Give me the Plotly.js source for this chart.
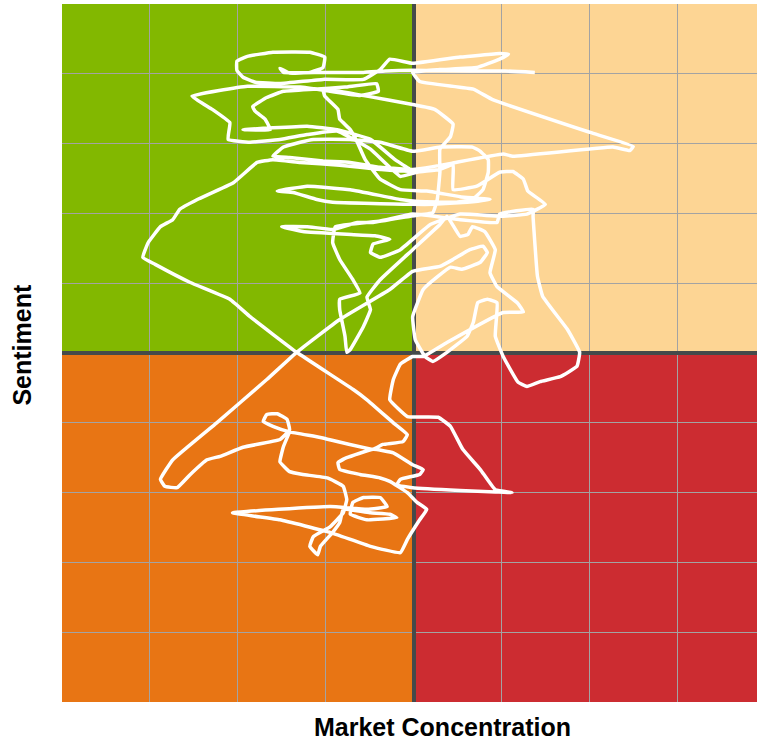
<!DOCTYPE html>
<html>
<head>
<meta charset="utf-8">
<script src="https://cdn.plot.ly/plotly-3.0.1.min.js"></script>
<style>html,body{margin:0;padding:0;background:#fff;}#chart{width:757px;height:743px;}</style>
</head>
<body>
<div id="chart"></div>
<script>
// Path of the market over time (Market Concentration, Sentiment)
const concentration = [
 1.38,1.04,0.64,-0.01,-0.32,-0.57,-1.06,-1.48,-1.52,-1.41,-1.18,-1.03,-1.01,-1.18,-1.60,-1.89,-2.01,-2.01,-1.94,-1.80,
 -1.52,-1.03,-0.57,-0.38,-0.27,-0.01,0.53,0.98,1.08,0.98,0.72,0.30,-0.01,0.07,0.68,0.90,2.01,2.50,2.46,2.27,
 1.13,1.02,0.44,0.22,-0.01,-0.38,-0.72,-1.03,-1.41,-1.60,-1.48,-1.29,-1.14,-0.72,-0.38,-0.01,0.30,0.67,0.76,0.85,
 0.85,0.79,0.67,0.49,0.07,-0.15,-0.72,-1.21,-1.55,-1.37,-1.10,-0.92,-0.01,0.22,0.61,0.87,0.53,0.15,-0.15,-0.38,
 -0.55,-0.64,-0.72,-0.84,-0.86,-1.01,-1.03,-0.98,-0.53,-0.01,0.24,0.45,0.42,0.30,0.30,0.27,0.22,-0.04,-0.46,-0.64,
 -0.92,-1.21,-1.50,-1.26,-0.76,-0.44,-0.27,-0.46,-0.49,-0.38,-0.15,0.19,0.53,0.98,1.29,1.50,1.30,1.25,1.13,0.98,
 0.72,0.45,0.45,0.30,0.04,-0.15,-0.49,-0.87,-1.21,-1.52,-1.86,-2.11,-2.09,-2.29,-2.52,-1.89,-1.29,-0.95,-0.61,-0.40,
 -0.42,-0.78,-1.14,-1.48,-1.67,-1.83,-1.80,-1.69,-1.63,-1.94,-1.21,-0.87,-0.49,-0.21,-0.01,-0.38,-0.84,-1.29,-1.60,-1.78,
 -2.05,-2.46,-2.66,-2.74,-2.88,-3.02,-3.08,-2.94,-2.54,-2.09,-1.86,-1.33,-0.69,-0.53,-0.23,-0.07,-0.12,-0.35,-0.46,-1.06,
 -1.41,-1.60,-1.71,-1.67,-1.55,-1.44,-1.41,-1.52,-1.94,-2.20,-2.35,-2.54,-2.69,-2.83,-2.88,-2.74,-2.24,-1.67,-1.33,-0.84,
 -0.27,-0.01,0.30,0.45,0.64,0.79,0.84,0.76,0.55,0.42,0.28,0.11,-0.01,0.02,0.13,0.22,0.38,0.61,0.68,0.73,
 0.84,0.95,0.93,1.02,1.19,1.29,1.44,1.67,1.86,1.89,1.75,1.47,1.41,1.36,1.36,0.98,0.95,0.53,-0.01,-0.38,
 -0.89,-0.92,-0.84,-0.69,-0.61,-0.84,-0.84,-0.78,-0.76,-0.72,-0.57,-0.49,-0.53,-0.38,-0.01,0.30,0.38,0.53,0.62,0.67,
 0.81,0.93,0.87,0.95,1.18,1.25,1.02,0.38,0.11,-0.01,-0.15,-0.23,-0.27,-0.07,0.28,0.42,0.56,0.76,0.93,1.12,
 0.93,0.53,-0.01,-0.19,-0.15,0.07,0.11,-0.01,-0.23,-0.46,-0.76,-0.86,-0.84,-0.61,-0.38,-0.27,-0.07,0.04,0.15,0.07,
 -0.07,-0.15,-0.49,-0.95,-1.52,-2.06,-0.95,-0.53,-0.30,-0.38,-0.57,-0.69,-0.72,-0.53,-0.19,-0.27,-0.49,-0.80,-0.84,-0.92,
 -1.06,-1.09,-1.18,-1.14,-0.95,-0.80,-0.76,-0.80,-0.98,-1.26,-1.41,-1.52,-1.48,-1.41
];
const sentiment = [
 4.02,4.04,4.04,4.05,4.04,4.02,4.02,4.02,4.08,4.01,4.02,4.09,4.24,4.31,4.31,4.25,4.18,4.05,3.95,3.88,
 3.86,3.92,3.92,4.06,4.21,4.15,4.24,4.29,4.28,4.21,4.09,4.06,4.02,3.89,3.78,3.63,3.16,2.96,2.90,2.95,
 2.82,2.85,2.72,2.67,2.63,2.66,2.73,2.75,2.80,2.82,2.95,3.02,3.06,3.06,3.02,2.89,2.95,2.95,2.89,2.77,
 2.59,2.34,2.20,2.16,2.17,2.20,2.34,2.39,2.32,2.30,2.20,2.16,2.13,2.13,2.16,2.20,2.24,2.32,2.34,2.49,
 2.77,3.02,3.20,3.35,3.49,3.68,3.78,3.78,3.68,3.56,3.49,3.28,3.10,2.92,2.59,2.20,2.01,1.96,1.87,1.87,
 1.77,1.81,1.81,1.74,1.70,1.68,1.63,1.56,1.44,1.37,1.48,1.84,1.99,1.96,1.99,2.13,2.32,2.49,2.60,2.59,
 2.39,2.34,2.70,2.63,2.59,2.53,2.92,3.18,3.13,3.06,3.02,3.06,3.30,3.49,3.68,3.82,3.81,3.75,3.69,3.75,
 3.86,3.81,3.78,3.75,3.66,3.53,3.46,3.35,3.20,3.20,3.25,3.20,3.06,2.77,2.60,2.63,2.69,2.73,2.77,2.73,
 2.44,2.20,2.06,1.91,1.81,1.58,1.37,1.27,1.01,0.77,0.52,0.01,-0.52,-0.67,-1.00,-1.17,-1.27,-1.31,-1.38,-1.21,
 -1.13,-1.05,-0.98,-0.88,-0.87,-0.95,-1.10,-1.24,-1.35,-1.48,-1.53,-1.74,-1.93,-1.91,-1.81,-1.53,-1.00,-0.38,0.01,0.48,
 0.91,1.17,1.24,1.34,1.48,1.53,1.44,1.30,1.20,1.23,1.10,0.91,0.52,0.19,-0.05,-0.12,0.01,0.24,0.44,0.72,
 0.77,0.72,0.24,-0.05,-0.42,-0.48,-0.41,-0.34,-0.19,0.01,0.34,0.81,1.10,1.96,2.06,1.99,1.87,1.91,1.99,1.89,
 1.81,1.58,1.34,1.05,0.86,0.77,0.62,0.24,0.01,0.05,0.38,0.62,0.80,1.05,1.48,1.84,1.96,1.67,1.70,1.81,
 1.74,1.48,1.15,0.95,0.72,0.59,0.58,0.15,-0.05,-0.05,-0.16,-0.38,-0.67,-0.91,-0.92,-1.05,-1.38,-1.67,-1.96,-2.00,
 -1.99,-1.97,-1.93,-1.89,-1.81,-1.74,-1.67,-1.60,-1.43,-1.38,-1.50,-1.57,-1.67,-1.74,-1.79,-1.84,-2.00,-2.14,-2.24,-2.39,
 -2.67,-2.86,-2.77,-2.57,-2.39,-2.29,-2.20,-2.24,-2.20,-2.07,-2.07,-2.14,-2.31,-2.39,-2.36,-2.31,-2.29,-2.24,-2.43,-2.57,
 -2.77,-2.89,-2.77,-2.63,-2.49,-2.29,-2.10,-1.91,-1.79,-1.74,-1.70,-1.56,-1.34,-1.13
];

// Quadrant extents and colours
const xMin = -4, xMid = 0, xMax = 4;
const yMin = -5, yMid = 0, yMax = 5;
const quadrantColors = {
  topLeft: '#82B800',
  topRight: '#FDD594',
  bottomLeft: '#E87514',
  bottomRight: '#CC2C31'
};

const quad = (x0, x1, y0, y1, color) => ({
  type: 'rect', xref: 'x', yref: 'y', x0, x1, y0, y1,
  fillcolor: color, line: {width: 0}, layer: 'below'
});

const trace = {
  x: concentration,
  y: sentiment,
  type: 'scatter',
  mode: 'lines',
  line: {color: '#FFFFFF', width: 3.5, shape: 'spline', smoothing: 0.3},
  hoverinfo: 'skip',
  showlegend: false
};

const layout = {
  width: 757,
  height: 743,
  margin: {l: 62, r: 0, t: 4, b: 41},
  paper_bgcolor: '#FFFFFF',
  plot_bgcolor: '#FFFFFF',
  showlegend: false,
  xaxis: {
    range: [-4, 3.908],
    tick0: 0, dtick: 1,
    showgrid: true, gridcolor: '#A3A3A3', gridwidth: 1,
    zeroline: true, zerolinecolor: '#454A4A', zerolinewidth: 4,
    showticklabels: false, ticks: '', showline: false, fixedrange: true
  },
  yaxis: {
    range: [-5, 5],
    tick0: 0, dtick: 1,
    showgrid: true, gridcolor: '#A3A3A3', gridwidth: 1,
    zeroline: true, zerolinecolor: '#454A4A', zerolinewidth: 4,
    showticklabels: false, ticks: '', showline: false, fixedrange: true
  },
  shapes: [
    quad(xMin, xMid, yMid, yMax, quadrantColors.topLeft),
    quad(xMid, xMax, yMid, yMax, quadrantColors.topRight),
    quad(xMin, xMid, yMin, yMid, quadrantColors.bottomLeft),
    quad(xMid, xMax, yMin, yMid, quadrantColors.bottomRight)
  ],
  annotations: [
    {text: '<b>Market Concentration</b>', xref: 'paper', yref: 'paper',
     x: 0.547, y: -0.0365, xanchor: 'center', yanchor: 'middle', showarrow: false,
     font: {family: 'Liberation Sans, Arial, sans-serif', size: 25, color: '#000000'}},
    {text: '<b>Sentiment</b>', xref: 'paper', yref: 'paper',
     x: -0.0576, y: 0.512, xanchor: 'center', yanchor: 'middle', showarrow: false, textangle: -90,
     font: {family: 'Liberation Sans, Arial, sans-serif', size: 25, color: '#000000'}}
  ]
};

Plotly.newPlot('chart', [trace], layout, {displayModeBar: false, staticPlot: true});
</script>
</body>
</html>
